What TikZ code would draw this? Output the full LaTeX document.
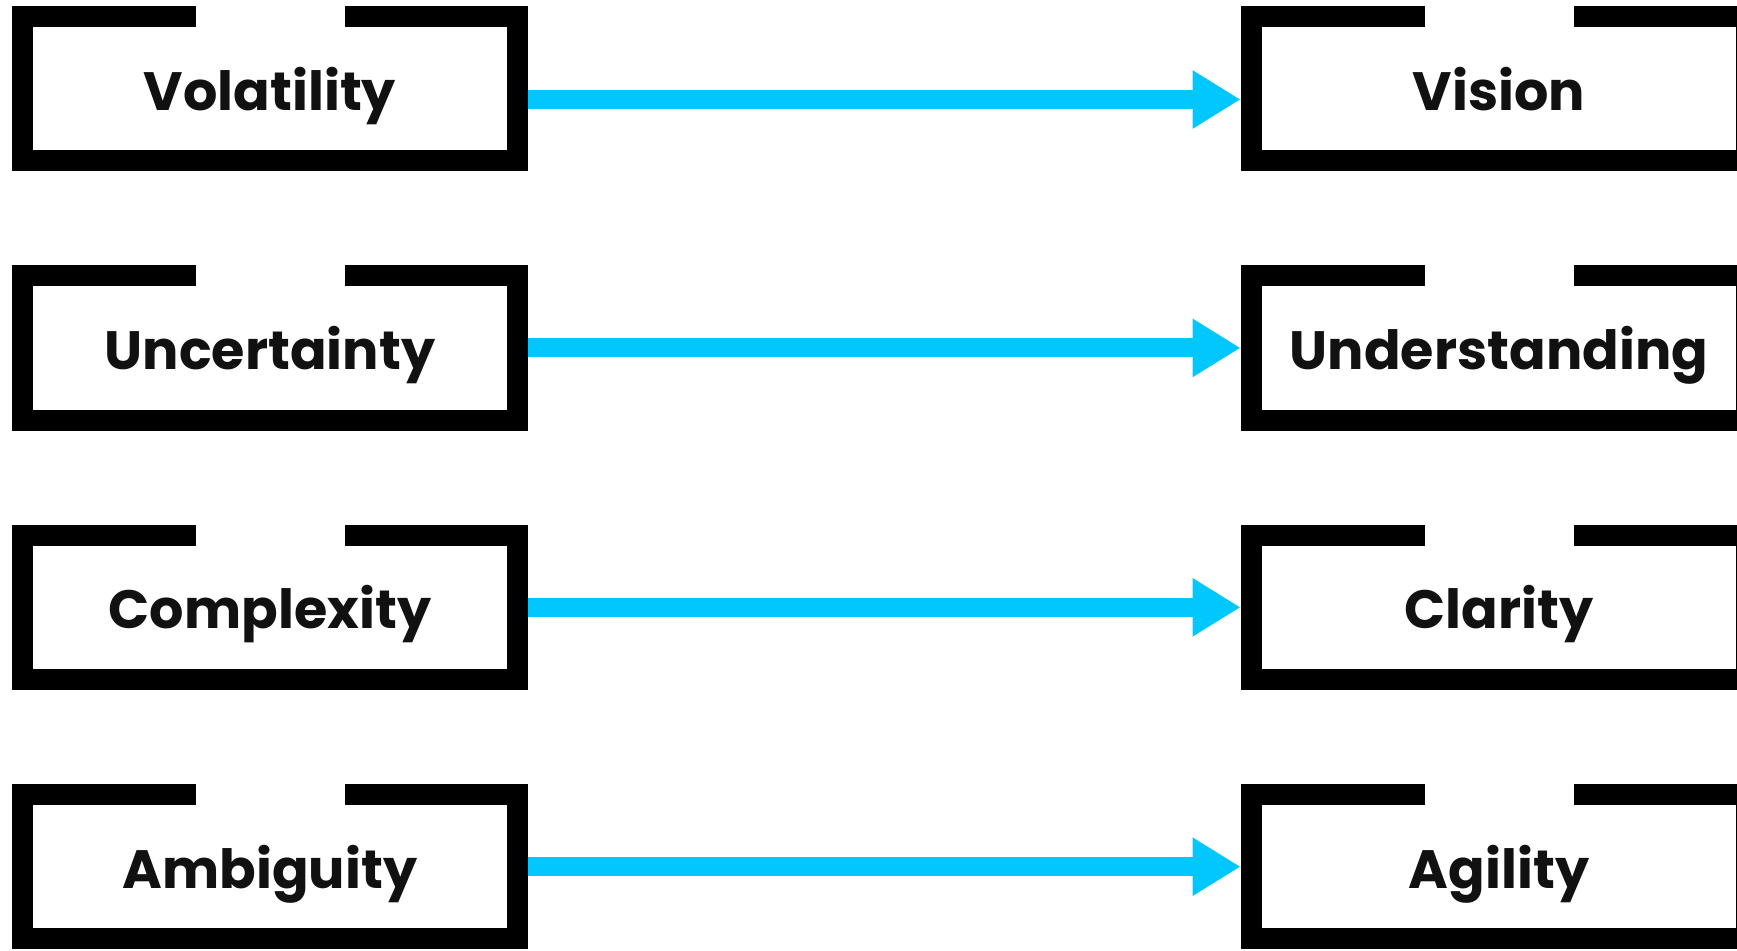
\documentclass[tikz,border=0pt]{standalone}
\usepackage{fontspec}
\setmainfont{Poppins}
\usetikzlibrary{arrows.meta}

\definecolor{flowblue}{RGB}{0,200,255}
\definecolor{inkblack}{RGB}{17,17,17}

\tikzstyle{openbox} = [minimum width=247.5pt, minimum height=71.8pt, inner sep=0pt,
    text height=21.5pt, text depth=0pt, text=inkblack,
    font=\fontsize{27}{30}\selectfont\bfseries]
\tikzstyle{boxframe} = [draw=black, line width=10.5pt, miter limit=10]
\tikzstyle{flow} = [draw=flowblue, line width=9.5pt,
    -{Triangle[length=24pt, width=27.5pt]}, shorten >=5.25pt]

\begin{document}
\begin{tikzpicture}[x=0.5pt, y=-0.5pt]
\useasboundingbox (0,0) rectangle (1737,950);

% left column
\node[openbox] (vol) at (270,88.5) {Volatility};
\node[openbox] (unc) at (270,347.9) {Uncertainty};
\node[openbox] (com) at (270,607.3) {Complexity};
\node[openbox] (amb) at (270,866.7) {Ambiguity};

% right column
\node[openbox] (vis) at (1499,88.5) {Vision};
\node[openbox] (und) at (1499,347.9) {Understanding};
\node[openbox] (cla) at (1499,607.3) {Clarity};
\node[openbox] (agi) at (1499,866.7) {Agility};

% arrows
\draw[flow] ([yshift=-5.5pt]vol.east) -- ([yshift=-5.5pt]vis.west);
\draw[flow] (unc.east) -- (und.west);
\draw[flow] (com.east) -- (cla.west);
\draw[flow] (amb.east) -- (agi.west);

% frames with a gap on top
\foreach \n in {vol,unc,com,amb,vis,und,cla,agi}{
  \draw[boxframe] ([xshift=-37.25pt]\n.north) -- (\n.north west) -- (\n.south west)
    -- (\n.south east) -- (\n.north east) -- ([xshift=37.25pt]\n.north);
}
\end{tikzpicture}
\end{document}
